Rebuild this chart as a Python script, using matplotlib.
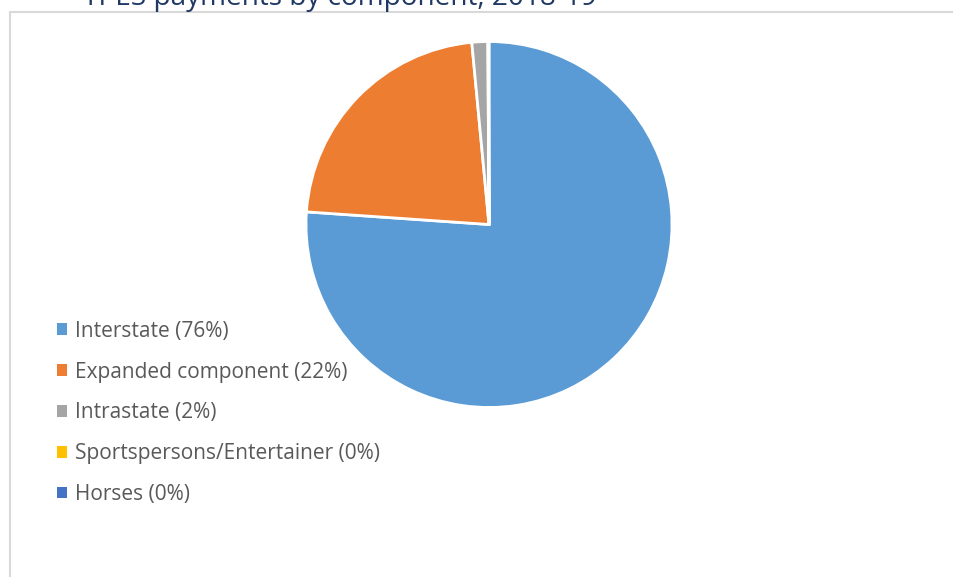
import matplotlib.pyplot as plt
from matplotlib.patches import Patch
from matplotlib.lines import Line2D

plt.rcParams['font.family'] = ['Open Sans', 'DejaVu Sans']

# data
labels = ["Interstate (76%)", "Expanded component (22%)", "Intrastate (2%)",
          "Sportspersons/Entertainer (0%)", "Horses (0%)"]
shares = [76.1, 22.4, 1.4, 0.05, 0.05]
colors = ["#5B9BD5", "#ED7D31", "#A5A5A5", "#FFC000", "#4472C4"]
title = "TPES payments by component, 2018-19"

W, H, dpi = 954, 577, 100
fig = plt.figure(figsize=(W / dpi, H / dpi), dpi=dpi)
fig.patch.set_facecolor('white')

# chart area border (left and top only visible)
fig.add_artist(Line2D([10 / W, 10 / W], [0, 1 - 11.5 / H], transform=fig.transFigure,
                      color='#D9D9D9', lw=1.5))
fig.add_artist(Line2D([10 / W, 1], [1 - 11.5 / H, 1 - 11.5 / H], transform=fig.transFigure,
                      color='#D9D9D9', lw=1.5))

# title, cut off at the top edge
fig.text(83 / W, 1 - 5 / H, title, fontsize=20.2, color='#1F3864', va='baseline', ha='left')

# pie
cx, cy, r = 489, 224.5, 183
ax = fig.add_axes([(cx - r) / W, (H - cy - r) / H, 2 * r / W, 2 * r / H])
ax.pie(shares, colors=colors, startangle=90, counterclock=False,
       wedgeprops=dict(edgecolor='white', linewidth=2))
ax.set_xlim(-1, 1)
ax.set_ylim(-1, 1)
ax.set_aspect('equal')
ax.axis('off')

# legend
handles = [Patch(facecolor=c, edgecolor='none') for c in colors]
leg = fig.legend(handles, labels, loc='upper left',
                 bbox_to_anchor=(38 / W, 1 - 302 / H), frameon=False,
                 fontsize=15, labelcolor='#595959', handlelength=0.48,
                 handleheight=0.5, handletextpad=0.38, labelspacing=0.95)

fig.savefig('out.png', dpi=dpi)
